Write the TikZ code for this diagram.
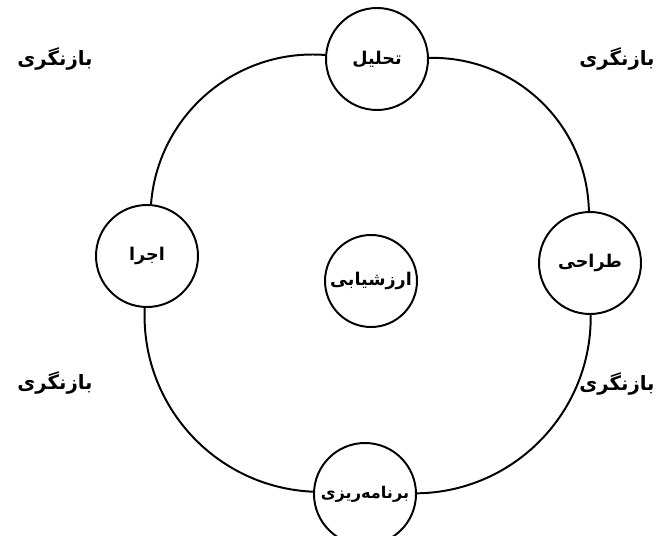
\documentclass[tikz,border=0pt]{standalone}
\usepackage{fontspec}
\newfontfamily\farsifont[Script=Arabic]{DejaVu Sans}
\TeXXeTstate=1
\newcommand{\fatext}[1]{{\farsifont\bfseries\beginR #1\endR}}

\tikzset{
  stage/.style={draw, circle, line width=1.4pt, fill=white, minimum size=2.55cm, inner sep=0pt, font=\fontsize{12.5}{14}\selectfont},
  review/.style={inner sep=0pt, font=\fontsize{14}{16}\selectfont},
  ring/.style={line width=1.4pt}
}

\begin{document}
\begin{tikzpicture}
				\useasboundingbox (0, 0) rectangle (16.4, -13.4);
				\node[stage] (tahlil)at(9.425, -1.475) {\fatext{تحلیل}};
				\node[stage] (ejra)at(3.675, -6.4) {\fatext{اجرا}};
				\node[stage] (tarahi)at(14.75, -6.575) {\fatext{طراحی}};
				\node[stage, font=\fontsize{11.5}{14}\selectfont] (barnameh)at(9.125, -12.35) {\fatext{برنامه‌ریزی}};
				\node[stage, minimum size=2.3cm] (arzesh)at(9.275, -7.025) {\fatext{ارزشیابی}};
				\node[review] (revTL)at(1.375, -1.475) {\fatext{بازنگری}};
				\node[review] (revTR)at(15.425, -1.475) {\fatext{بازنگری}};
				\node[review] (revBL)at(1.375, -9.575) {\fatext{بازنگری}};
				\node[review] (revBR)at(15.425, -9.6) {\fatext{بازنگری}};
				\draw[ring] (tahlil) to[bend right=45] (ejra);
				\draw[ring] (ejra) to[bend right=45] (barnameh);
				\draw[ring] (barnameh) to[bend right=45] (tarahi);
				\draw[ring] (tarahi) to[bend right=45] (tahlil);
			\end{tikzpicture}
\end{document}
